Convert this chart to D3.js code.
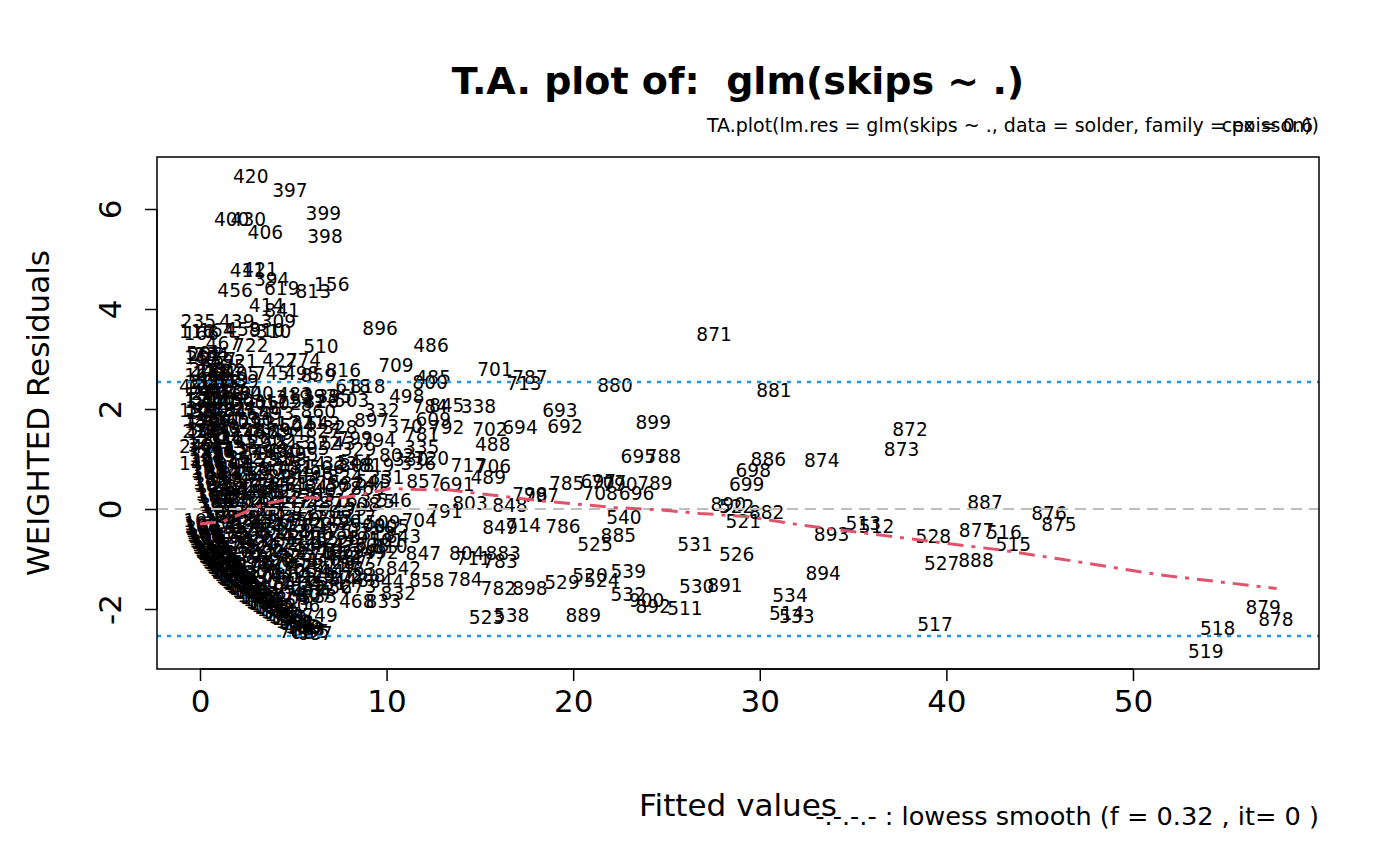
<!DOCTYPE html>
<html>
<head>
<meta charset="utf-8">
<script src="https://cdn.jsdelivr.net/npm/d3@7"></script>
<style>
  body { margin: 0; background: #fff; }
  text { font-family: "DejaVu Sans", sans-serif; white-space: pre; }
</style>
</head>
<body>
<svg id="chart" width="1400" height="866"></svg>
<script>
const xTicks = [0, 10, 20, 30, 40, 50];
const yTicks = [-2, 0, 2, 4, 6];
const bandLimit = 2.54;

// lowess smooth
const lowessX = [0, 1.25, 2.5, 3.6, 5.2, 6.4, 7.1, 8.4, 10.2, 11.6, 13.4, 15.6, 18.6, 22.2, 24.7, 26.8, 29.3, 32.2, 37.5, 42.9, 46.1, 51.5, 57.7];
const lowessY = [-0.3, -0.25, -0.05, 0.11, 0.23, 0.22, 0.2, 0.27, 0.41, 0.39, 0.38, 0.28, 0.15, 0.03, -0.02, -0.09, -0.15, -0.32, -0.57, -0.82, -1.0, -1.32, -1.59];

// [observation, fitted value, weighted residual] for the readable labels
const sparsePoints = [
  [420,2.72,6.66],[397,4.82,6.37],[400,1.70,5.79],[430,2.59,5.79],[406,3.50,5.53],[399,6.61,5.91],[398,6.70,5.46],
  [411,2.54,4.78],[421,3.22,4.79],[394,3.84,4.59],[456,1.88,4.38],[619,4.38,4.41],[813,6.07,4.36],[156,7.06,4.50],
  [414,3.57,4.08],[841,4.40,3.98],[235,-0.09,3.75],[439,1.97,3.75],[309,4.2,3.76],[116,-0.18,3.55],[164,0.9,3.58],
  [458,2.3,3.6],[910,3.6,3.58],[310,3.95,3.56],[896,9.65,3.62],[467,1.25,3.31],[722,2.72,3.28],[561,0.2,3.12],
  [510,6.48,3.26],[486,12.38,3.28],[871,27.55,3.5],[709,10.5,2.88],[701,15.81,2.8],[787,17.68,2.64],[713,17.36,2.52],
  [880,22.24,2.48],[881,30.76,2.38],[485,12.5,2.63],[800,12.33,2.53],[818,8.99,2.45],[618,8.2,2.45],[498,11.08,2.26],
  [784,12.33,2.06],[845,13.22,2.08],[338,14.92,2.06],[693,19.29,1.97],[692,19.56,1.66],[609,12.5,1.79],[792,13.22,1.63],
  [370,10.99,1.65],[781,11.88,1.5],[702,15.54,1.59],[694,17.15,1.63],[488,15.69,1.3],[335,11.88,1.23],[720,12.4,1.02],
  [330,11.3,1.0],[336,11.7,0.91],[717,14.38,0.88],[706,15.72,0.85],[489,15.45,0.63],[691,13.76,0.5],[857,12.0,0.55],
  [864,9.0,0.42],[798,17.68,0.3],[797,18.3,0.28],[848,16.61,0.08],[803,14.47,0.11],[791,13.13,-0.05],[785,19.65,0.51],
  [697,21.35,0.56],[707,21.9,0.54],[708,21.44,0.31],[696,23.4,0.31],[790,22.5,0.5],[789,24.38,0.51],[695,23.49,1.06],
  [788,24.83,1.06],[899,24.29,1.73],[540,22.72,-0.17],[885,22.42,-0.52],[525,21.17,-0.7],[786,19.45,-0.34],
  [531,26.53,-0.7],[526,28.76,-0.9],[539,22.95,-1.25],[520,20.9,-1.32],[524,21.53,-1.42],[529,19.4,-1.46],
  [532,22.95,-1.7],[900,23.94,-1.82],[892,24.29,-1.94],[511,25.99,-1.99],[530,26.62,-1.54],[891,28.13,-1.52],
  [889,20.54,-2.12],[534,31.62,-1.72],[514,31.44,-2.09],[533,31.98,-2.14],[886,30.46,0.99],[698,29.65,0.78],
  [699,29.3,0.5],[890,28.31,0.1],[522,28.76,0.05],[882,30.37,-0.07],[521,29.12,-0.24],[874,33.32,0.97],
  [872,38.05,1.59],[873,37.6,1.19],[893,33.85,-0.5],[513,35.55,-0.29],[512,36.26,-0.35],[894,33.4,-1.29],
  [528,39.3,-0.55],[527,39.75,-1.09],[888,41.59,-1.03],[887,42.07,0.13],[877,41.62,-0.43],[516,43.09,-0.47],
  [515,43.59,-0.7],[876,45.5,-0.08],[875,46.03,-0.3],[517,39.39,-2.3],[879,56.98,-1.97],[878,57.66,-2.21],
  [518,54.54,-2.39],[519,53.9,-2.84],
  [704,11.75,-0.23],[849,16.08,-0.37],[714,17.33,-0.32],[805,10.27,-0.35],[843,10.9,-0.55],[810,10.18,-0.75],
  [847,11.97,-0.89],[804,14.29,-0.89],[711,14.65,-0.99],[883,16.25,-0.89],[783,16.08,-1.05],[842,10.9,-1.19],
  [662,7.68,-0.89],[858,12.15,-1.42],[784,14.2,-1.41],[782,15.99,-1.59],[898,17.68,-1.59],[844,10.0,-1.45],
  [832,10.63,-1.69],[833,9.82,-1.85],[468,8.4,-1.85],[523,15.36,-2.17],[538,16.7,-2.12],[607,6.16,-1.72],
  [749,6.43,-2.12],[687,6.16,-2.49],[667,5.8,-2.47],[765,5.18,-2.45],
  [427,4.29,2.97],[274,5.54,2.97],[498,5.45,2.71],[745,3.84,2.71],[859,6.34,2.68],[816,7.68,2.77],[405,2.23,2.71],
  [173,0.54,2.71],[482,0.63,3.01],[921,2.14,2.95],[483,5.09,2.3],[393,6.4,2.26],[395,7.2,2.25],[503,8.13,2.18],
  [332,9.74,1.98],[897,9.2,1.78],[860,6.34,1.95],[827,6.61,1.57],[799,8.31,1.41],[794,9.56,1.37],[819,9.47,0.88],
  [802,10.54,1.08],[808,8.4,0.88],[824,7.77,0.65],[474,-0.18,2.45],[181,0.09,2.15],[155,-0.18,1.98],[139,0.09,1.75],
  [211,0.0,1.55],[242,-0.18,1.25],[148,-0.18,0.91]
];

// the overprinted mass of labels at small fitted values (estimated)
const clusterPoints = [
  [101,0.05,-0.22],[102,0.08,-0.28],[103,0.1,-0.32],[104,0.12,-0.35],[105,0.15,-0.39],[106,0.18,-0.42],[107,0.22,-0.47],
  [108,0.25,-0.5],[109,0.3,-0.55],[110,0.35,-0.59],[111,0.4,-0.63],[112,0.45,-0.67],[113,0.5,-0.71],[114,0.55,-0.74],
  [115,0.6,-0.77],[117,0.65,-0.81],[118,0.7,-0.84],[119,0.75,-0.87],[120,0.8,-0.89],[121,0.85,-0.92],[122,0.9,-0.95],
  [123,0.95,-0.97],[124,1.0,-1.0],[125,1.08,-1.04],[126,1.15,-1.07],[127,1.22,-1.1],[128,1.3,-1.14],[129,1.38,-1.17],
  [130,1.45,-1.2],[131,1.52,-1.23],[132,1.6,-1.26],[133,1.7,-1.3],[134,1.8,-1.34],[135,1.9,-1.38],[136,2.0,-1.41],
  [137,2.1,-1.45],[138,2.2,-1.48],[140,2.3,-1.52],[141,2.4,-1.55],[142,2.5,-1.58],[143,2.65,-1.63],[144,2.8,-1.67],
  [145,2.95,-1.72],[146,3.1,-1.76],[147,3.25,-1.8],[149,3.4,-1.84],[150,3.55,-1.88],[151,3.7,-1.92],[152,3.85,-1.96],
  [153,4.0,-2.0],[154,4.2,-2.05],[157,4.4,-2.1],[158,4.6,-2.14],[159,4.8,-2.19],[160,5.0,-2.24],[161,5.25,-2.29],
  [162,5.5,-2.35],[163,5.75,-2.4],[165,6.0,-2.45],
  [166,0.07,3.52],[167,0.09,3.03],[168,0.11,2.68],[169,0.13,2.41],[170,0.15,2.19],[171,0.18,1.93],[172,0.21,1.72],
  [174,0.24,1.55],[175,0.28,1.36],[176,0.32,1.2],[177,0.36,1.07],[178,0.4,0.95],[179,0.45,0.82],[180,0.5,0.71],
  [182,0.56,0.59],[183,0.62,0.48],[184,0.7,0.36],[185,0.78,0.25],[186,0.86,0.15],[187,0.95,0.05],[188,1.05,-0.05],
  [189,1.15,-0.14],[190,1.3,-0.26],[191,1.45,-0.37],[192,1.6,-0.47],[193,1.75,-0.57],[194,1.9,-0.65],[195,2.1,-0.76],
  [196,2.3,-0.86],[197,2.5,-0.95],[198,2.75,-1.06],[199,3.0,-1.15],[200,3.3,-1.27],[201,3.6,-1.37],[202,3.9,-1.47],
  [203,4.2,-1.56],[204,4.6,-1.68],[205,5.0,-1.79],[206,5.5,-1.92],
  [207,0.3,3.1],[208,0.35,2.79],[209,0.4,2.53],[210,0.45,2.31],[212,0.5,2.12],[213,0.6,1.81],[214,0.7,1.55],
  [215,0.8,1.34],[216,0.9,1.16],[217,1.0,1.0],[218,1.15,0.79],[219,1.3,0.61],[220,1.5,0.41],[221,1.7,0.23],
  [222,1.9,0.07],[223,2.1,-0.07],[224,2.4,-0.26],[225,2.7,-0.43],[226,3.0,-0.58],[227,3.4,-0.76],[228,3.8,-0.92],
  [229,4.2,-1.07],[230,4.7,-1.25],[231,5.2,-1.4],[232,5.8,-1.58],[233,6.4,-1.74],
  [234,0.6,3.1],[236,0.7,2.75],[237,0.8,2.46],[238,0.9,2.21],[239,1.0,2.0],[240,1.2,1.64],[241,1.4,1.35],
  [243,1.6,1.11],[244,1.8,0.89],[245,2.0,0.71],[246,2.3,0.46],[247,2.6,0.25],[248,3.0,0.0],[249,3.4,-0.22],
  [250,3.8,-0.41],[251,4.3,-0.63],[252,4.8,-0.82],[253,5.4,-1.03],[254,6.0,-1.22],[255,6.6,-1.4],[256,7.2,-1.57],
  [257,1.0,3.0],[258,1.2,2.56],[259,1.4,2.2],[260,1.7,1.76],[261,2.0,1.41],[262,2.4,1.03],[263,2.8,0.72],
  [264,3.2,0.45],[265,3.6,0.21],[266,4.0,0.0],[267,4.5,-0.24],[268,5.0,-0.45],[269,5.6,-0.68],[270,6.2,-0.88],
  [271,7.0,-1.13],[272,7.8,-1.36],[273,8.5,-1.54],
  [275,1.5,2.86],[276,1.8,2.39],[277,2.1,2.0],[278,2.5,1.58],[279,3.0,1.15],[280,3.5,0.8],[281,4.0,0.5],
  [282,4.5,0.24],[283,5.2,-0.09],[284,5.8,-0.33],[285,6.5,-0.59],[286,7.3,-0.85],[287,8.0,-1.06],[288,9.0,-1.33],
  [289,2.2,2.56],[290,2.6,2.11],[291,3.0,1.73],[292,3.5,1.34],[293,4.0,1.0],[294,4.6,0.65],[295,5.2,0.35],
  [296,6.0,0.0],[297,6.8,-0.31],[298,7.6,-0.58],[299,8.5,-0.86],
  [300,3.0,2.31],[301,3.6,1.79],[302,4.2,1.37],[303,4.8,1.0],[304,5.5,0.64],[305,6.3,0.28],[306,7.2,-0.07],
  [307,8.2,-0.42],[308,9.2,-0.73],
  [311,3.8,2.15],[312,4.4,1.72],[313,5.0,1.34],[314,5.8,0.91],[315,6.6,0.54],[316,7.5,0.18],[317,8.5,-0.17],
  [318,9.5,-0.49],
  [319,5.0,2.24],[321,5.8,1.74],[322,6.6,1.32],[323,7.5,0.91],[324,8.5,0.51],[325,9.5,0.16],
  [326,6.5,2.16],[328,7.5,1.64],[329,8.5,1.2],[331,10.0,0.63]
];

// more overprinted labels in the same mass
const clusterPointsMore = [
  [340,0.13,-0.36],[341,0.27,-0.52],[342,0.42,-0.65],[343,0.58,-0.76],[344,0.72,-0.85],[345,0.88,-0.94],
  [346,1.12,-1.06],[347,1.35,-1.16],[348,1.58,-1.26],[349,1.85,-1.36],[350,2.15,-1.47],[351,2.45,-1.57],
  [352,2.75,-1.66],[353,3.05,-1.75],[354,3.45,-1.86],[355,3.9,-1.97],[356,4.3,-2.07],[357,4.7,-2.17],
  [358,5.15,-2.27],[359,5.6,-2.37],
  [360,0.12,2.54],[361,0.17,2.01],[362,0.23,1.6],[363,0.3,1.28],[364,0.38,1.0],[365,0.48,0.75],[366,0.6,0.52],
  [367,0.74,0.3],[368,0.9,0.1],[369,1.1,-0.1],[371,1.38,-0.32],[372,1.68,-0.52],[373,2.0,-0.71],[374,2.4,-0.9],
  [375,2.9,-1.12],[376,3.45,-1.32],[377,4.0,-1.5],[378,4.8,-1.73],
  [379,0.42,2.44],[380,0.55,1.96],[381,0.65,1.67],[382,0.75,1.44],[383,0.95,1.08],[384,1.2,0.73],[385,1.4,0.51],
  [386,1.6,0.32],[387,1.8,0.15],[388,2.25,-0.17],[389,2.55,-0.34],[390,2.85,-0.5],[391,3.2,-0.67],[392,3.6,-0.84],
  [396,4.0,-1.0],[401,4.45,-1.16],[402,5.0,-1.34],[403,5.5,-1.49],[404,6.1,-1.66],
  [407,0.75,2.6],[408,0.85,2.33],[409,0.95,2.13],[410,1.1,1.81],[412,1.3,1.49],[413,1.5,1.22],[415,1.7,1.0],
  [416,1.9,0.8],[417,2.15,0.58],[418,2.45,0.35],[419,2.8,0.12],[422,3.2,-0.11],[423,3.6,-0.32],[424,4.05,-0.52],
  [425,4.55,-0.73],[426,5.1,-0.93],[428,5.7,-1.13],[429,6.3,-1.31],[431,6.9,-1.49],
  [432,1.1,2.77],[433,1.3,2.37],[434,1.55,1.97],[435,1.85,1.58],[436,2.2,1.21],[437,2.6,0.87],[438,3.0,0.58],
  [440,3.4,0.33],[441,3.8,0.1],[442,4.25,-0.12],[443,4.75,-0.34],[444,5.3,-0.56],[445,5.9,-0.78],[446,6.6,-1.01],
  [447,7.4,-1.25],[448,8.1,-1.43],
  [449,1.65,2.6],[450,1.95,2.18],[451,2.3,1.78],[452,2.75,1.36],[453,3.25,0.97],[454,3.75,0.65],[455,4.25,0.36],
  [457,4.8,0.09],[459,5.5,-0.21],[460,6.2,-0.48],[461,6.9,-0.72],[462,7.7,-0.97],[463,8.5,-1.2],
  [464,2.4,2.32],[465,2.8,1.91],[466,3.25,1.53],[469,3.75,1.16],[470,4.3,0.82],[471,4.9,0.5],[472,5.6,0.17],
  [473,6.4,-0.16],[475,7.2,-0.45],[476,8.0,-0.71],[477,9.0,-1.0],
  [478,3.3,2.04],[479,3.9,1.57],[480,4.5,1.18],[481,5.1,0.84],[484,5.9,0.45],[487,6.7,0.12],[490,7.7,-0.25],
  [491,8.7,-0.58],[492,9.7,-0.87],
  [493,4.1,1.92],[494,4.7,1.52],[495,5.4,1.1],[496,6.2,0.72],[497,7.0,0.38],[499,8.0,0.0],[500,9.0,-0.33],
  [501,10.0,-0.63],
  [502,4.5,2.12],[504,5.2,1.67],[505,6.0,1.22],[506,6.8,0.84],[507,7.7,0.47],[508,8.7,0.1],[509,9.8,-0.26],
  [541,5.8,2.16],[542,6.6,1.71],[543,7.4,1.32],[544,8.3,0.94],[545,9.3,0.56],[546,10.4,0.18]
];

const svg = d3.select('#chart');
const plot = { left: 157, right: 1319, top: 157, bottom: 669 };

const x = d3.scaleLinear().domain([-2.304, 59.97]).range([plot.left, plot.right]);
const y = d3.scaleLinear().domain([-3.2, 7.04]).range([plot.bottom, plot.top]);

const labelSize = 18.6;
const tickFormat = d => String(d);   // plain hyphen for negatives, as in the reference

// point labels
const allPoints = clusterPoints.concat(clusterPointsMore, sparsePoints);
svg.append('g')
    .selectAll('text')
    .data(allPoints)
    .enter()
    .append('text')
    .attr('x', d => x(d[1]))
    .attr('y', d => y(d[2]))
    .attr('dy', '0.36em')
    .attr('text-anchor', 'middle')
    .attr('font-size', labelSize)
    .attr('fill', '#000')
    .text(d => d[0]);

// reference lines
svg.append('line')
    .attr('x1', plot.left).attr('x2', plot.right)
    .attr('y1', y(0)).attr('y2', y(0))
    .attr('stroke', '#bebebe')
    .attr('stroke-width', 2)
    .attr('stroke-dasharray', '11,7');

const lowess = d3.line()
    .x(d => x(d[0]))
    .y(d => y(d[1]));
svg.append('path')
    .datum(lowessX.map((v, i) => [v, lowessY[i]]))
    .attr('d', lowess)
    .attr('fill', 'none')
    .attr('stroke', '#DF536B')
    .attr('stroke-width', 3)
    .attr('stroke-dasharray', '16,8,4,8');

[bandLimit, -bandLimit].forEach(v => {
    svg.append('line')
        .attr('x1', plot.left).attr('x2', plot.right)
        .attr('y1', y(v)).attr('y2', y(v))
        .attr('stroke', '#2297E6')
        .attr('stroke-width', 2.5)
        .attr('stroke-dasharray', '4,6');
});

// box
svg.append('rect')
    .attr('x', plot.left)
    .attr('y', plot.top)
    .attr('width', plot.right - plot.left)
    .attr('height', plot.bottom - plot.top)
    .attr('fill', 'none')
    .attr('stroke', '#000')
    .attr('stroke-width', 1.5);

// x axis
const xAxis = svg.append('g')
    .attr('transform', `translate(0, ${plot.bottom})`)
    .call(d3.axisBottom(x).tickValues(xTicks).tickSize(12).tickPadding(9).tickFormat(tickFormat));
xAxis.select('.domain').attr('d', `M${x(0)},0H${x(50)}`).attr('stroke-width', 1.5);
xAxis.selectAll('.tick line').attr('stroke-width', 1.5);
xAxis.selectAll('.tick text')
    .attr('font-size', 31)
    .attr('font-family', '"DejaVu Sans", sans-serif')
    .attr('fill', '#000');

// y axis, labels parallel to the axis
const yAxis = svg.append('g')
    .attr('transform', `translate(${plot.left}, 0)`)
    .call(d3.axisLeft(y).tickValues(yTicks).tickSize(12).tickFormat(tickFormat));
yAxis.select('.domain').attr('d', `M0,${y(-2)}V${y(6)}`).attr('stroke-width', 1.5);
yAxis.selectAll('.tick line').attr('stroke-width', 1.5);
yAxis.selectAll('.tick text')
    .attr('font-size', 31)
    .attr('font-family', '"DejaVu Sans", sans-serif')
    .attr('fill', '#000')
    .attr('text-anchor', 'middle')
    .attr('x', 0)
    .attr('dy', 0)
    .attr('transform', 'translate(-36, 0) rotate(-90)');

// titles
svg.append('text')
    .attr('x', 738)
    .attr('y', 94)
    .attr('text-anchor', 'middle')
    .attr('font-size', 38)
    .attr('font-weight', 'bold')
    .text('T.A. plot of:  glm(skips ~ .)');

svg.append('text')
    .attr('x', plot.right)
    .attr('y', 132)
    .attr('text-anchor', 'end')
    .attr('font-size', 19)
    .text('TA.plot(lm.res = glm(skips ~ ., data = solder, family = poisson))');

svg.append('text')
    .attr('x', plot.right - 6)
    .attr('y', 132)
    .attr('text-anchor', 'end')
    .attr('font-size', 19)
    .text('cex = 0.6');

svg.append('text')
    .attr('x', 738)
    .attr('y', 816)
    .attr('text-anchor', 'middle')
    .attr('font-size', 31)
    .text('Fitted values');

svg.append('text')
    .attr('transform', `translate(49, ${(plot.top + plot.bottom) / 2}) rotate(-90)`)
    .attr('text-anchor', 'middle')
    .attr('font-size', 31)
    .text('WEIGHTED Residuals');

svg.append('text')
    .attr('x', plot.right)
    .attr('y', 825)
    .attr('text-anchor', 'end')
    .attr('font-size', 25.6)
    .text('-.-.-.- : lowess smooth (f = 0.32 , it= 0 )');
</script>
</body>
</html>
